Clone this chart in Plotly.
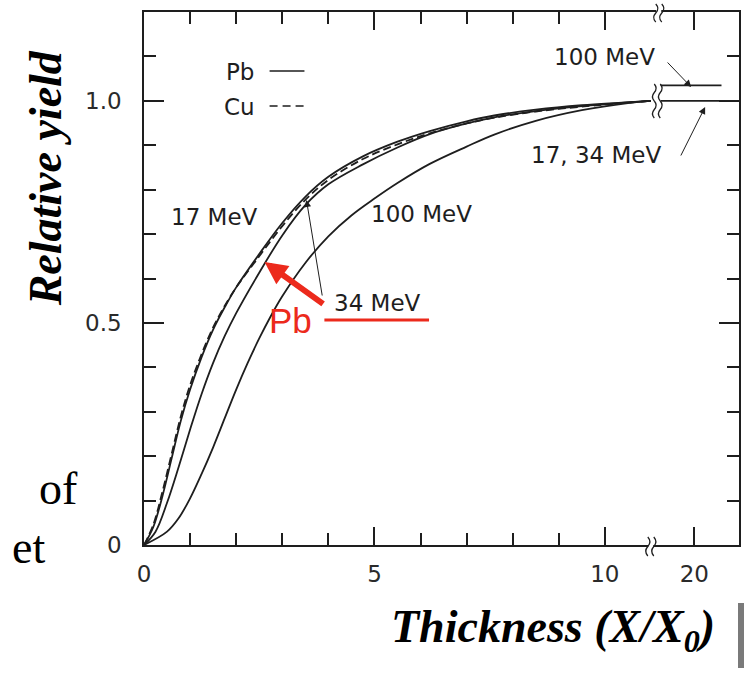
import plotly.graph_objects as go

# ---- canvas / frame -------------------------------------------------------
W, H = 745, 675
ML, MR, MT, MB = 144, 4, 12, 130
PW, PH = W - ML - MR, H - MT - MB          # plotting area in px

X_MAX = 12.91                              # axis units (broken axis)
Y_MAX = 1.2
POS_20 = 11.94                             # where "20" sits after the break

INK = "#1e1e1e"
RED = "#ec2a1c"
SANS = "DejaVu Sans"
SERIF = "Liberation Serif"

# ---- data: relative positron yield vs target thickness (X/X0) -------------
T_PB17 = [0, 0.2, 0.4, 0.6, 0.8, 1.0, 1.25, 1.5, 1.75, 2.0, 2.5, 3.0, 3.5, 4.0, 4.75, 5.5, 6.2, 7.0, 7.6, 8.5, 9.5, 11.0]
Y_PB17 = [0, 0.04, 0.11, 0.195, 0.28, 0.35, 0.423, 0.485, 0.535, 0.58, 0.655, 0.725, 0.784, 0.829, 0.875, 0.908, 0.932, 0.954, 0.967, 0.98, 0.99, 1.0]

T_PB34 = [0, 0.25, 0.5, 0.75, 1.0, 1.25, 1.5, 1.75, 2.0, 2.5, 3.0, 3.5, 4.0, 4.75, 5.5, 6.2, 7.0, 7.6, 8.5, 9.5, 11.0]
Y_PB34 = [0, 0.03, 0.095, 0.175, 0.26, 0.34, 0.41, 0.47, 0.522, 0.613, 0.697, 0.765, 0.812, 0.857, 0.895, 0.925, 0.949, 0.963, 0.977, 0.988, 1.0]

T_PB100 = [0, 0.5, 0.75, 1.0, 1.25, 1.5, 1.75, 2.0, 2.25, 2.5, 2.75, 3.0, 3.5, 4.0, 4.5, 5.0, 5.5, 6.2, 7.0, 7.6, 8.5, 9.5, 10.5, 11.0]
Y_PB100 = [0, 0.03, 0.06, 0.105, 0.16, 0.22, 0.285, 0.35, 0.41, 0.465, 0.515, 0.56, 0.635, 0.695, 0.742, 0.78, 0.815, 0.858, 0.897, 0.924, 0.955, 0.979, 0.995, 1.0]

T_CU17 = [0, 0.2, 0.4, 0.6, 0.8, 1.0, 1.25, 1.5, 1.75, 2.0, 2.5, 3.0, 3.5, 4.0, 4.75, 5.5, 6.2, 7.0, 7.6, 8.5, 9.5, 11.0]
Y_CU17 = [0, 0.045, 0.12, 0.205, 0.29, 0.36, 0.43, 0.49, 0.538, 0.58, 0.65, 0.718, 0.777, 0.822, 0.869, 0.902, 0.927, 0.949, 0.962, 0.976, 0.987, 1.0]

# thick-target values shown beyond the axis break (around 20 X0)
T_TAIL = [12.7, 25.9]
Y_TAIL_17_34 = [1.0, 1.0]
Y_TAIL_100 = [1.035, 1.035]

X_MAJOR = [0, 5, 10, 20]
X_MAJOR_LABELS = ["0", "5", "10", "20"]
X_MINOR = [1, 2, 3, 4, 6, 7, 8, 9]
Y_MAJOR = [0, 0.5, 1.0]
Y_MAJOR_LABELS = ["0", "0.5", "1.0"]
Y_MINOR = [0.1, 0.2, 0.3, 0.4, 0.6, 0.7, 0.8, 0.9, 1.1]


def axis_x(t):
    """Map thickness to the broken axis: linear to 11, compressed beyond."""
    return t if t <= 11 else POS_20 + (t - 20) * 0.1


def fx(p):  # pixel column -> paper x
    return (p - ML) / PW


def fy(p):  # pixel row -> paper y
    return (H - MB - p) / PH


fig = go.Figure()


def curve(ts, ys, dash="solid"):
    fig.add_trace(go.Scatter(
        x=[axis_x(t) for t in ts], y=ys, mode="lines",
        line=dict(color=INK, width=1.8, dash=dash, shape="spline", smoothing=1.0),
        showlegend=False, hoverinfo="skip"))


curve(T_PB17, Y_PB17)
curve(T_PB34, Y_PB34)
curve(T_PB100, Y_PB100)
curve(T_CU17, Y_CU17, dash="8px,4px")
curve(T_TAIL, Y_TAIL_17_34)
curve(T_TAIL, Y_TAIL_100)

tickfont = dict(family=SANS, size=23, color="#2a2a2a")
fig.update_xaxes(
    range=[0, X_MAX], tickmode="array",
    tickvals=[axis_x(v) for v in X_MAJOR], ticktext=X_MAJOR_LABELS,
    ticks="inside", ticklen=18, tickwidth=1.5, tickcolor=INK,
    showline=True, linecolor=INK, linewidth=1.6, mirror="allticks",
    showgrid=False, zeroline=False, tickfont=tickfont, ticklabelstandoff=8,
    minor=dict(tickmode="array", tickvals=X_MINOR, ticks="inside",
               ticklen=12, tickwidth=1.5, tickcolor=INK, showgrid=False))
fig.update_yaxes(
    range=[0, Y_MAX], tickmode="array", tickvals=Y_MAJOR, ticktext=Y_MAJOR_LABELS,
    ticks="inside", ticklen=20, tickwidth=1.5, tickcolor=INK,
    showline=True, linecolor=INK, linewidth=1.6, mirror="allticks",
    showgrid=False, zeroline=False, tickfont=tickfont, ticklabelstandoff=16,
    minor=dict(tickmode="array", tickvals=Y_MINOR, ticks="inside",
               ticklen=12, tickwidth=1.5, tickcolor=INK, showgrid=False))

ann = []


def label(text, x, y, size=23, color=INK, family=SANS, xanchor="center", **kw):
    ann.append(dict(text=text, x=fx(x), y=fy(y), xref="paper", yref="paper",
                    xanchor=xanchor, yanchor="middle", showarrow=False,
                    font=dict(family=family, size=size, color=color), **kw))


def arrow(tail, tip, color=INK, width=1.0, head=2, size=1.4):
    ann.append(dict(text="", x=fx(tip[0]), y=fy(tip[1]), xref="paper", yref="paper",
                    ax=tail[0] - tip[0], ay=tail[1] - tip[1], showarrow=True,
                    arrowhead=head, arrowsize=size, arrowwidth=width, arrowcolor=color,
                    standoff=0, startstandoff=0))


# in-plot key and curve labels
label("Pb", 240, 72)
label("Cu", 240, 107)
label("17 MeV", 215, 217)
label("100 MeV", 422, 214)
label("34 MeV", 378, 303)
label("100 MeV", 606, 57)
label("17, 34 MeV", 598, 155)
arrow((323, 297), (307, 200))
arrow((668, 61), (693, 87))
arrow((682, 157), (707, 107))

# red highlight
label("Pb", 291, 320, size=35, color=RED, family="Liberation Sans")
arrow((325, 305), (265, 262), color=RED, width=6, head=2, size=0.75)

# axis titles and surrounding slide text
label("<b><i>Relative yield</i></b>", 45, 178, size=46, family=SERIF, color="#000", textangle=-90)
label("<b><i>Thickness (X/X<sub>0</sub>)</i></b>", 554, 630, size=46, family=SERIF, color="#000")
label("of", 80, 488, size=46, family=SERIF, color="#000", xanchor="right")
label("et", 47, 547, size=46, family=SERIF, color="#000", xanchor="right")

shapes = []
# key line samples
shapes.append(dict(type="line", xref="paper", yref="paper", x0=fx(270), x1=fx(305),
                   y0=fy(71), y1=fy(71), line=dict(color=INK, width=1.5)))
shapes.append(dict(type="line", xref="paper", yref="paper", x0=fx(270), x1=fx(305),
                   y0=fy(106), y1=fy(106), line=dict(color=INK, width=1.5, dash="8px,5px")))
# red underline
shapes.append(dict(type="line", xref="paper", yref="paper", x0=fx(325), x1=fx(430),
                   y0=fy(320), y1=fy(320), line=dict(color=RED, width=3)))


def wave(xc, y0, y1, a=2.5):
    h = y1 - y0
    ym = y0 + h / 2
    pts = [(xc, y0), (xc + a, y0 + h * 0.15), (xc + a, ym - h * 0.15), (xc, ym),
           (xc - a, ym + h * 0.15), (xc - a, y1 - h * 0.15), (xc, y1)]
    p = [(fx(x), fy(y)) for x, y in pts]
    return ("M{:.5f},{:.5f} C{:.5f},{:.5f} {:.5f},{:.5f} {:.5f},{:.5f} "
            "C{:.5f},{:.5f} {:.5f},{:.5f} {:.5f},{:.5f}").format(*[c for xy in p for c in xy])


def axis_break(xc, y0, y1):
    shapes.append(dict(type="rect", xref="paper", yref="paper", x0=fx(xc - 2), x1=fx(xc + 3),
                       y0=fy(y1 - 4), y1=fy(y0 + 4), fillcolor="white", line=dict(width=0)))
    for dx in (-2.5, 3.5):
        shapes.append(dict(type="path", xref="paper", yref="paper", path=wave(xc + dx, y0, y1),
                           line=dict(color=INK, width=1.3)))


axis_break(660, 4, 22)
axis_break(652, 537, 556)
for dx in (656, 662):
    shapes.append(dict(type="path", xref="paper", yref="paper", path=wave(dx, 84, 101, 2.2),
                       line=dict(color=INK, width=1.3)))
    shapes.append(dict(type="path", xref="paper", yref="paper", path=wave(dx, 101, 118, 2.2),
                       line=dict(color=INK, width=1.3)))

# grey slide bar at lower right
shapes.append(dict(type="rect", xref="paper", yref="paper", x0=fx(740), x1=fx(746),
                   y0=fy(668), y1=fy(603), fillcolor="#7a7a7a", line=dict(width=0)))

fig.update_layout(
    width=W, height=H, margin=dict(l=ML, r=MR, t=MT, b=MB),
    paper_bgcolor="white", plot_bgcolor="white",
    annotations=ann, shapes=shapes, showlegend=False)

fig.write_html("out.html")
